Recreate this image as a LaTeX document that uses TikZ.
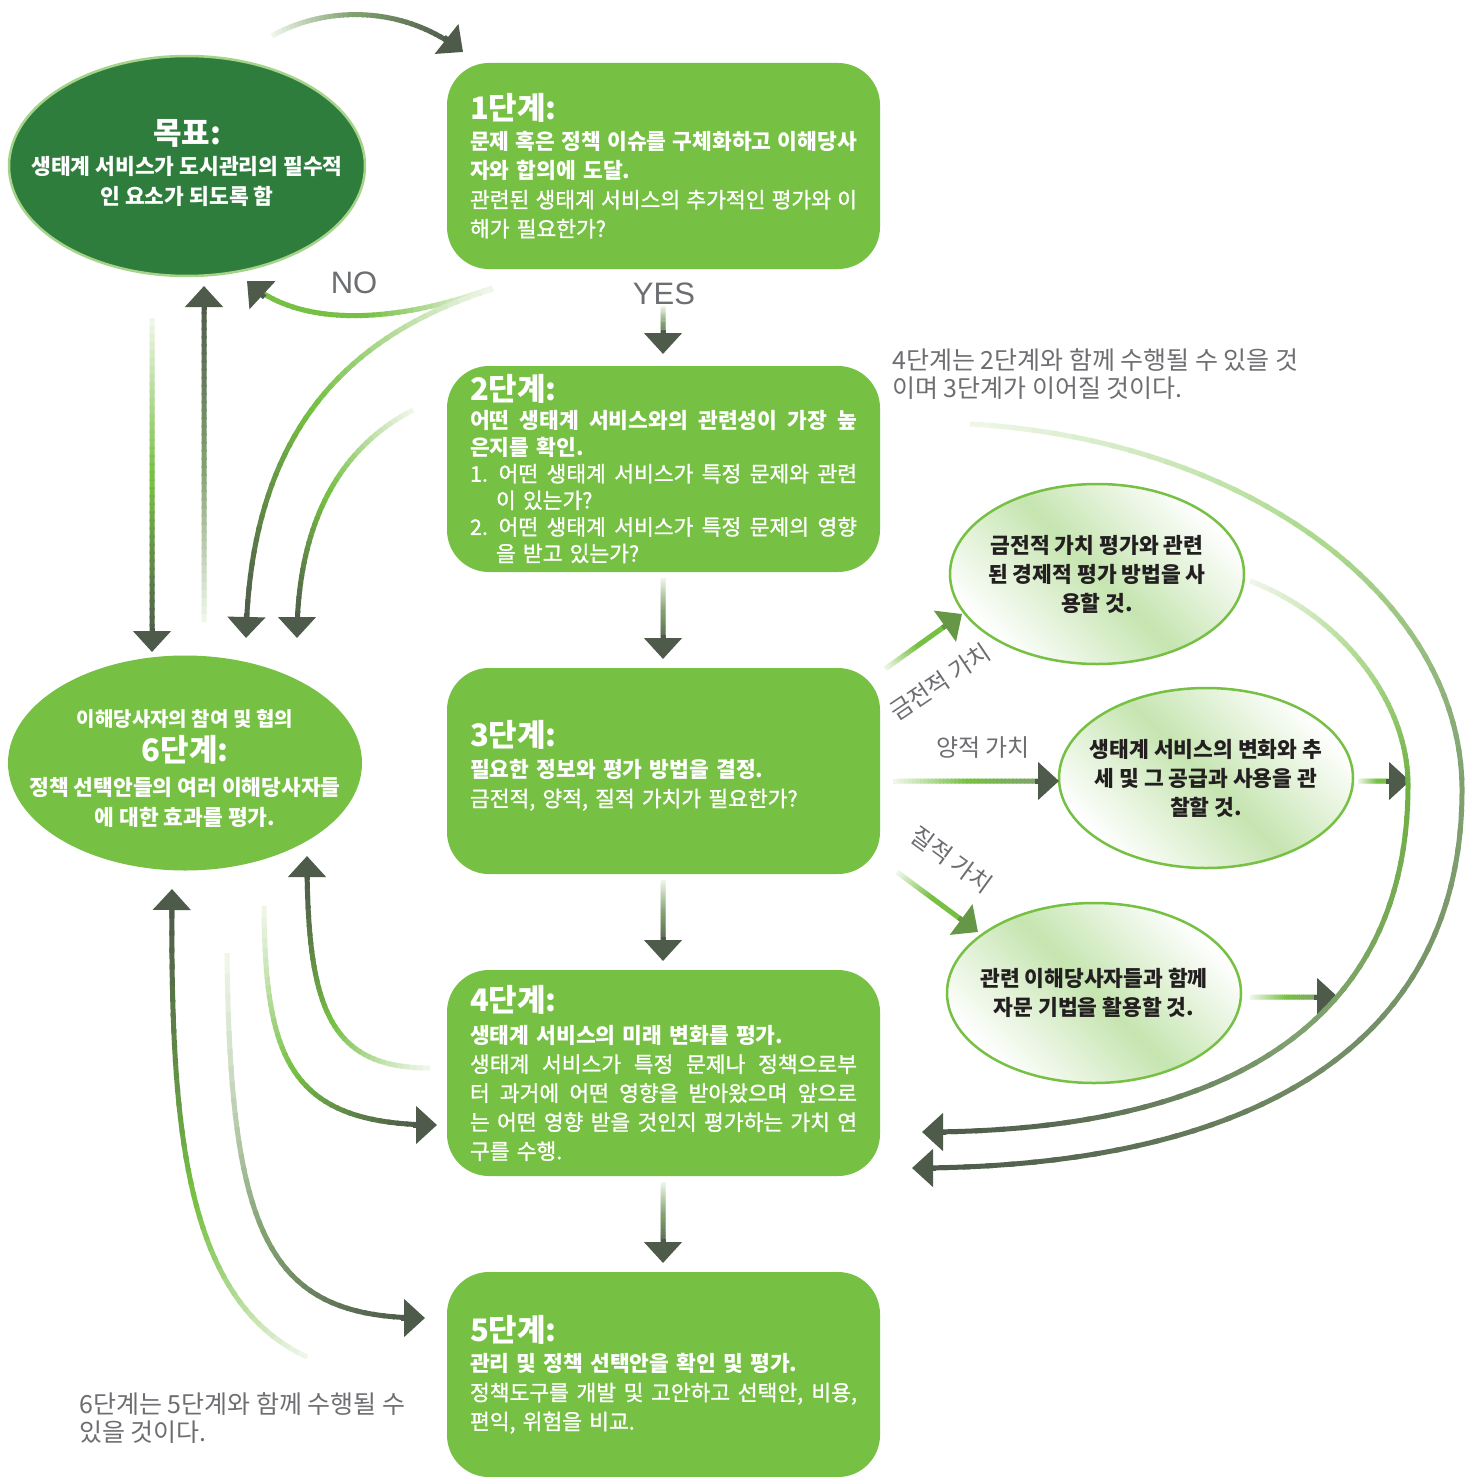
\documentclass[tikz,border=0pt]{standalone}
\usepackage{fontspec}
\setmainfont{Noto Sans CJK KR}
\newfontfamily\medfont{Noto Sans CJK KR}[FakeBold=1.2]
\newfontfamily\lat{Liberation Sans}
\usetikzlibrary{shapes.geometric,arrows.meta,calc}
\definecolor{lgreen}{RGB}{118,192,67}
\definecolor{goalg}{RGB}{46,125,60}
\definecolor{goalb}{RGB}{165,211,138}
\definecolor{adark}{RGB}{78,90,74}
\definecolor{midg}{RGB}{128,160,112}
\definecolor{pale}{RGB}{238,246,232}
\definecolor{txtgray}{RGB}{109,110,113}
\definecolor{txtdark}{RGB}{35,31,32}
\colorlet{gdk}{lgreen!85!adark}
\colorlet{mdk}{midg!70!adark}
\colorlet{hgreen}{lgreen!60!adark}
\colorlet{lpale}{lgreen!60!white}

\newcommand\jl[1]{\leavevmode\hbox to 387pt{\spaceskip=0.22em plus 1fil minus 0.1em\relax #1}}
\newcommand\ttl[1]{{\normalfont\fontsize{31}{34}\selectfont\bfseries #1}}
\newcommand\bl[1]{{\normalfont\bfseries #1}}

% gradient stroke along a cubic curve: c0, cmid, c1, p0, p1, p2, p3, end time
\newcommand\gradcore[8]{%
  \foreach \gi in {0,...,39}{%
    \pgfmathsetmacro\gta{#8*\gi/40}%
    \pgfmathsetmacro\gtb{#8*min(40,\gi+1.3)/40}%
    \begin{pgfscope}%
      \pgfsetlinewidth{5pt}%
      \ifnum\gi<20\relax
        \pgfmathtruncatemacro\gpc{100-\gi*100/19}%
        \pgfsetstrokecolor{#1!\gpc!#2}%
      \else
        \pgfmathtruncatemacro\gpc{100-(\gi-20)*100/19}%
        \pgfsetstrokecolor{#2!\gpc!#3}%
      \fi
      \pgfpathcurvebetweentime{\gta}{\gtb}{\pgfpointanchor{#4}{center}}{\pgfpointanchor{#5}{center}}{\pgfpointanchor{#6}{center}}{\pgfpointanchor{#7}{center}}%
      \pgfusepath{stroke}%
    \end{pgfscope}}}
\newcommand\gradcurve[7]{\gradcore{#1}{#2}{#3}{#4}{#5}{#6}{#7}{1}}
\newcommand\gradarrow[8]{%
  \pgfpointdiff{\pgfpointanchor{#6}{center}}{\pgfpointanchor{#7}{center}}%
  \pgfgetlastxy{\gdx}{\gdy}%
  \pgfmathsetmacro\gtend{1-12/(3*veclen(\gdx,\gdy))}%
  \gradcore{#1}{#2}{#3}{#4}{#5}{#6}{#7}{\gtend}%
  \draw[-{Triangle[length=21pt,width=37pt]},line width=5pt,draw=#8] ($(#7)!24pt!(#6)$) -- (#7);}
\newcommand\sarrow[6]{%
  \coordinate (#4-q1) at ($(#4)!1/3!(#5)$);
  \coordinate (#4-q2) at ($(#4)!2/3!(#5)$);
  \gradarrow{#1}{#2}{#3}{#4}{#4-q1}{#4-q2}{#5}{#6}}

\tikzset{
  stepbox/.style={fill=lgreen, rounded corners=42pt, minimum width=433pt, minimum height=206pt,
    text width=387pt, inner xsep=23pt, inner ysep=0pt, align=left, text=white,
    font=\medfont\fontsize{21.5}{29}\selectfont},
  goalnode/.style={ellipse, fill=goalg, draw=goalb, line width=2.5pt, minimum width=356pt, minimum height=220pt, inner sep=0pt},
  sixnode/.style={ellipse, fill=lgreen, minimum width=354pt, minimum height=215pt, inner sep=0pt},
  whitetxt/.style={text=white, align=center, inner sep=0pt, font=\bfseries\fontsize{21.5}{30}\selectfont},
  rell/.style={ellipse, draw=lgreen, line width=2.5pt, minimum width=294pt, minimum height=180pt, inner sep=-16pt,
    top color=white, bottom color=white, middle color=lgreen!42!white, shading angle=-45,
    align=center, text=txtdark, font=\bfseries\fontsize{21.5}{29}\selectfont},
  graylab/.style={text=txtgray, inner sep=0pt, font=\fontsize{24}{28}\selectfont},
  note/.style={text=txtgray, align=left, inner sep=0pt, font=\fontsize{25}{28}\selectfont},
  bigword/.style={text=txtgray, inner sep=0pt, font=\lat\fontsize{31}{36}\selectfont}
}

\begin{document}
\begin{tikzpicture}[x=1pt,y=-1pt]
\fill[white] (0,0) rectangle (1472,1477);
\useasboundingbox (0,0) rectangle (1472,1477);

% ---------- nodes ----------
\node[goalnode] (goal) at (187,166) {};
\node[whitetxt] (goaltxt) at (187,163) {{\fontsize{31}{34}\selectfont 목표:}\\ 생태계 서비스가 도시관리의 필수적\\ 인 요소가 되도록 함};

\node[stepbox] (box1) at (663.5,166) {\ttl{1단계:}\\[1pt]
\bl{\jl{문제 혹은 정책 이슈를 구체화하고 이해당사}}\\
\bl{자와 합의에 도달.}\\
\jl{관련된 생태계 서비스의 추가적인 평가와 이}\\
해가 필요한가?};

\node[stepbox, font=\medfont\fontsize{21.5}{26.6}\selectfont] (box2) at (663.5,469) {\ttl{2단계:}\\[1pt]
\bl{\jl{어떤 생태계 서비스와의 관련성이 가장 높}}\\
\bl{은지를 확인.}\\
\jl{1. 어떤 생태계 서비스가 특정 문제와 관련}\\
\hspace*{26pt}이 있는가?\\
\jl{2. 어떤 생태계 서비스가 특정 문제의 영향}\\
\hspace*{26pt}을 받고 있는가?};

\node[stepbox] (box3) at (663.5,771) {\ttl{3단계:}\\[2pt]
\bl{필요한 정보와 평가 방법을 결정.}\\
금전적, 양적, 질적 가치가 필요한가?\\[-14pt]\rule{0pt}{1pt}};

\node[stepbox] (box4) at (663.5,1073) {\ttl{4단계:}\\[3pt]
\bl{생태계 서비스의 미래 변화를 평가.}\\
\jl{생태계 서비스가 특정 문제나 정책으로부}\\
\jl{터 과거에 어떤 영향을 받아왔으며 앞으로}\\
\jl{는 어떤 영향 받을 것인지 평가하는 가치 연}\\
구를 수행.};

\node[stepbox, minimum height=205pt] (box5) at (663.5,1374.5) {\ttl{5단계:}\\[1pt]
\bl{관리 및 정책 선택안을 확인 및 평가.}\\
\jl{정책도구를 개발 및 고안하고 선택안, 비용,}\\
편익, 위험을 비교.};

\node[sixnode] (six) at (185,763) {};
\node[whitetxt] (sixtxt) at (185,769) {{\fontsize{20}{28}\selectfont 이해당사자의 참여 및 협의}\\[5pt]{\fontsize{31}{34}\selectfont 6단계:}\\[4pt] 정책 선택안들의 여러 이해당사자들\\ 에 대한 효과를 평가.};

\node[rell] (e1) at (1097,574) {금전적 가치 평가와 관련\\된 경제적 평가 방법을 사\\용할 것.};
\node[rell] (e2) at (1206,778) {생태계 서비스의 변화와 추\\세 및 그 공급과 사용을 관\\찰할 것.};
\node[rell] (e3) at (1094,993) {관련 이해당사자들과 함께\\자문 기법을 활용할 것.};

\node[graylab, rotate=34] (lmon) at (940,682) {금전적 가치};
\node[graylab] (lqty) at (983,748) {양적 가치};
\node[graylab, rotate=-36] (lqual) at (952,860) {질적 가치};

\node[bigword] (no) at (354,283) {NO};
\node[bigword] (yes) at (664,294) {YES};

\node[note, anchor=west] (note1) at (892,374) {4단계는 2단계와 함께 수행될 수 있을 것\\이며 3단계가 이어질 것이다.};
\node[note, anchor=west] (note2) at (79,1418) {6단계는 5단계와 함께 수행될 수\\있을 것이다.};

% ---------- connector coordinates ----------
\coordinate (ta0) at (272,36);  \coordinate (ta1) at (320,8);   \coordinate (ta2) at (400,2);   \coordinate (ta3) at (463,52);
\coordinate (no0) at (492,288); \coordinate (no1) at (400,322); \coordinate (no2) at (300,330); \coordinate (no3) at (247,281);
\coordinate (bg0) at (493,289); \coordinate (bg1) at (330,340); \coordinate (bg2) at (250,450); \coordinate (bg3) at (246,638);
\coordinate (sc0) at (413,410); \coordinate (sc1) at (335,450); \coordinate (sc2) at (297,530); \coordinate (sc3) at (297,638);
\coordinate (lv0) at (152,318); \coordinate (lv1) at (152,652);
\coordinate (up0) at (204,622); \coordinate (up1) at (204,286);
\coordinate (ya) at (663,306);  \coordinate (yb) at (663,354);
\coordinate (da) at (663,578);  \coordinate (db) at (663,659);
\coordinate (dc) at (663,880);  \coordinate (dd) at (663,961);
\coordinate (de) at (663,1182); \coordinate (df) at (663,1263);
\coordinate (ua0) at (430,1068); \coordinate (ua1) at (330,1068); \coordinate (ua2) at (307,1010); \coordinate (ua3) at (307,856);
\coordinate (fb0) at (264,906);  \coordinate (fb1) at (265,1060); \coordinate (fb2) at (290,1125); \coordinate (fb3) at (437,1125);
\coordinate (fc0) at (227,953);  \coordinate (fc1) at (230,1240); \coordinate (fc2) at (270,1318); \coordinate (fc3) at (425,1318);
\coordinate (ul0) at (307,1357); \coordinate (ul1) at (185,1300); \coordinate (ul2) at (170,1130); \coordinate (ul3) at (172,889);
\coordinate (m0) at (885,669);  \coordinate (m1) at (962,614);
\coordinate (q0) at (893,781);  \coordinate (q1) at (1059,781);
\coordinate (l0) at (897,872);  \coordinate (l1) at (978,932);
\coordinate (r20) at (1358,781); \coordinate (r21) at (1410,781);
\coordinate (r30) at (1250,997); \coordinate (r31) at (1338,997);
\coordinate (ia0) at (1250,581); \coordinate (ia1) at (1340,615); \coordinate (ia2) at (1408,700); \coordinate (ia3) at (1408,785);
\coordinate (ib1) at (1408,1000); \coordinate (ib2) at (1260,1132); \coordinate (ib3) at (922,1132);
\coordinate (oa0) at (970,424); \coordinate (oa1) at (1250,440); \coordinate (oa2) at (1462,600); \coordinate (oa3) at (1462,790);
\coordinate (ob1) at (1462,1060); \coordinate (ob2) at (1230,1168); \coordinate (ob3) at (912,1168);

% ---------- connectors ----------
\gradarrow{pale}{midg}{adark}{ta0}{ta1}{ta2}{ta3}{adark}
\gradarrow{pale}{lgreen}{lgreen}{no0}{no1}{no2}{no3}{adark}
\gradarrow{pale}{lgreen}{adark}{bg0}{bg1}{bg2}{bg3}{adark}
\gradarrow{pale}{lgreen}{adark}{sc0}{sc1}{sc2}{sc3}{adark}
\sarrow{pale}{lgreen}{adark}{lv0}{lv1}{adark}
\sarrow{pale}{midg}{adark}{up0}{up1}{adark}
\sarrow{pale}{midg}{adark}{ya}{yb}{adark}
\sarrow{pale}{midg}{adark}{da}{db}{adark}
\sarrow{pale}{midg}{adark}{dc}{dd}{adark}
\sarrow{pale}{midg}{adark}{de}{df}{adark}
\gradarrow{pale}{lgreen}{adark}{ua0}{ua1}{ua2}{ua3}{adark}
\gradarrow{pale}{lgreen}{adark}{fb0}{fb1}{fb2}{fb3}{adark}
\gradarrow{pale}{midg}{adark}{fc0}{fc1}{fc2}{fc3}{adark}
\gradarrow{pale}{lgreen}{adark}{ul0}{ul1}{ul2}{ul3}{adark}
\sarrow{pale}{lgreen}{lgreen}{m0}{m1}{hgreen}
\sarrow{pale}{lgreen}{midg}{q0}{q1}{adark}
\sarrow{pale}{lgreen}{lgreen}{l0}{l1}{hgreen}
\sarrow{pale}{lgreen}{lgreen}{r20}{r21}{adark}
\sarrow{pale}{lgreen}{midg}{r30}{r31}{adark}
\gradcurve{pale}{lpale}{gdk}{ia0}{ia1}{ia2}{ia3}
\gradarrow{gdk}{midg}{adark}{ia3}{ib1}{ib2}{ib3}{adark}
\gradcurve{pale}{lpale}{midg}{oa0}{oa1}{oa2}{oa3}
\gradarrow{midg}{mdk}{adark}{oa3}{ob1}{ob2}{ob3}{adark}
\end{tikzpicture}
\end{document}
